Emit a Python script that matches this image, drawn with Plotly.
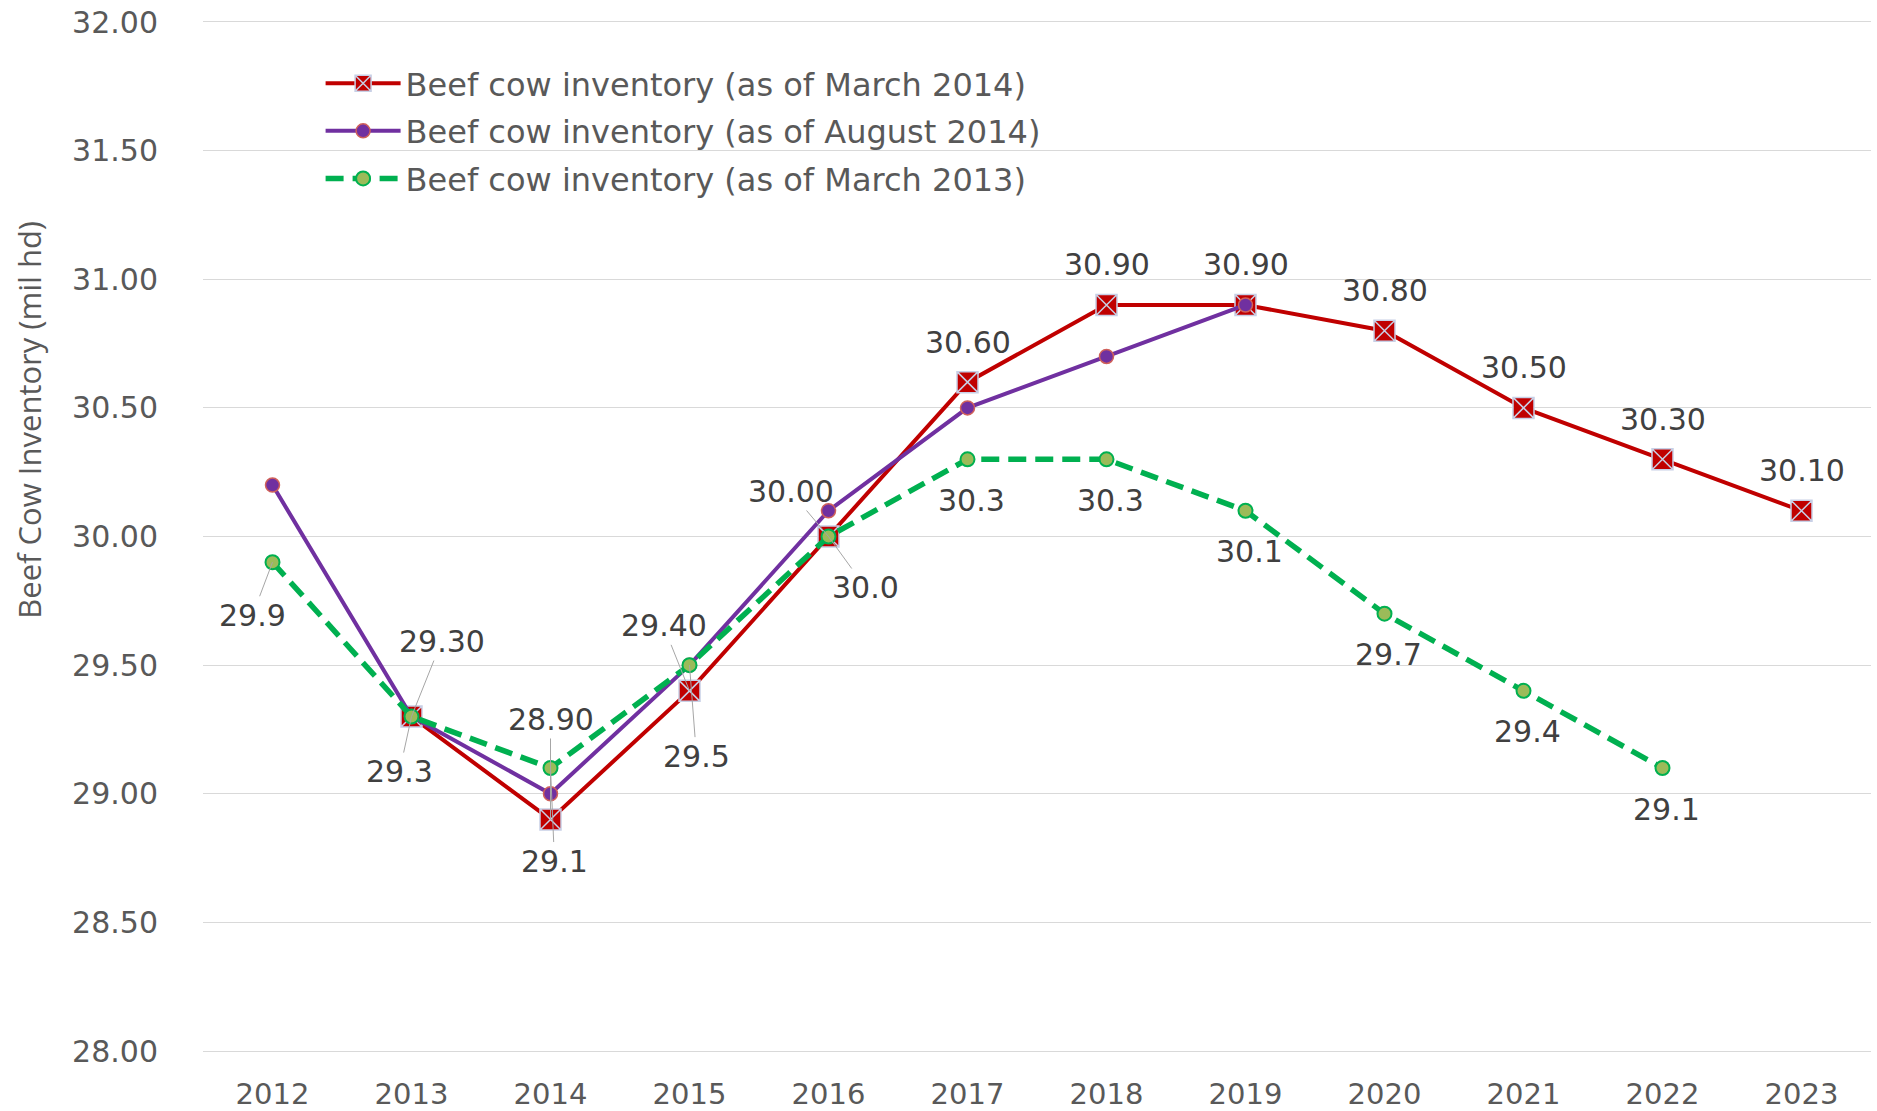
import plotly.graph_objects as go

years = [2012, 2013, 2014, 2015, 2016, 2017, 2018, 2019, 2020, 2021, 2022, 2023]
march2014 = [None, 29.3, 28.9, 29.4, 30.0, 30.6, 30.9, 30.9, 30.8, 30.5, 30.3, 30.1]
aug2014 = [30.2, 29.3, 29.0, 29.5, 30.1, 30.5, 30.7, 30.9, None, None, None, None]
march2013 = [29.9, 29.3, 29.1, 29.5, 30.0, 30.3, 30.3, 30.1, 29.7, 29.4, 29.1, None]

series_names = [
    "Beef cow inventory (as of March 2014)",
    "Beef cow inventory (as of August 2014)",
    "Beef cow inventory (as of March 2013)",
]
y_title = "Beef Cow Inventory (mil hd)"
y_ticks = [28.0, 28.5, 29.0, 29.5, 30.0, 30.5, 31.0, 31.5, 32.0]

# label placement (pixel offsets from point, leader flag) -- styling only
red_offsets = {2013: (30, -75, True), 2014: (0, -100, True), 2015: (-26, -65, True),
               2016: (-38, -45, True)}
red_default = (0, -40, False)
green_offsets = {2012: (-20, 53, True), 2013: (-12, 55, True), 2014: (4, 93, True),
                 2015: (7, 91, True), 2016: (37, 51, True)}
green_default = (4, 41, False)

RED = "#C00000"
PURPLE = "#7030A0"
GREEN = "#00B050"

fig = go.Figure()
fig.add_trace(go.Scatter(
    x=years, y=march2014, name=series_names[0], mode="lines+markers", legendgroup="a",
    line=dict(color=RED, width=4),
    marker=dict(symbol="square-x", size=21, color=RED, line=dict(color="#C8D0E6", width=1.5)),
))
fig.add_trace(go.Scatter(
    x=years, y=aug2014, name=series_names[1], mode="lines+markers", legendgroup="b",
    line=dict(color=PURPLE, width=4),
    marker=dict(symbol="circle", size=14, color=PURPLE, line=dict(color="#D0605A", width=1.5)),
))
fig.add_trace(go.Scatter(
    x=years, y=march2013, name=series_names[2], mode="lines+markers", legendgroup="c",
    line=dict(color=GREEN, width=5.5, dash="18px,9px"),
    marker=dict(symbol="circle", size=14, color="#9BBB59", line=dict(color=GREEN, width=2)),
))

annotations = []
label_font = dict(family="DejaVu Sans", size=30, color="#404040")
for yr, v in zip(years, march2014):
    if v is None:
        continue
    ax, ay, lead = red_offsets.get(yr, red_default)
    annotations.append(dict(
        x=yr, y=v, text=f"{v:.2f}", showarrow=True, ax=ax, ay=ay, arrowhead=0,
        arrowwidth=1, arrowcolor="#A6A6A6" if lead else "rgba(0,0,0,0)", standoff=0,
        font=label_font))
for yr, v in zip(years, march2013):
    if v is None:
        continue
    ax, ay, lead = green_offsets.get(yr, green_default)
    annotations.append(dict(
        x=yr, y=v, text=f"{v:.1f}", showarrow=True, ax=ax, ay=ay, arrowhead=0,
        arrowwidth=1, arrowcolor="#A6A6A6" if lead else "rgba(0,0,0,0)", standoff=0,
        font=label_font))

annotations.append(dict(
    xref="paper", yref="paper", x=-0.104, y=0.613, xanchor="center", yanchor="middle",
    text=y_title, textangle=-90, showarrow=False,
    font=dict(family="Open Sans", size=31, color="#595959")))

fig.update_layout(
    width=1877, height=1111,
    margin=dict(l=203, r=6, t=22, b=60, autoexpand=False),
    paper_bgcolor="white", plot_bgcolor="white",
    showlegend=True,
    legend=dict(x=0.0705, y=0.967, xanchor="left", yanchor="top",
                font=dict(family="DejaVu Sans", size=32, color="#595959"),
                bgcolor="rgba(0,0,0,0)", itemwidth=75, tracegroupgap=3),
    annotations=annotations,
    xaxis=dict(range=[2011.5, 2023.5], tickmode="array", tickvals=years,
               ticktext=[str(y) for y in years], showgrid=False, zeroline=False,
               showline=True, mirror=True, linecolor="#D9D9D9", linewidth=1,
               ticks="", ticklabelstandoff=17, automargin=False,
               tickfont=dict(family="DejaVu Sans", size=29, color="#595959")),
    yaxis=dict(range=[28, 32], tickmode="array", tickvals=y_ticks,
               ticktext=[f"{t:.2f}" for t in y_ticks], showgrid=True,
               gridcolor="#D9D9D9", gridwidth=1, zeroline=False, showline=False,
               ticks="", ticklabelstandoff=44, automargin=False,
               tickfont=dict(family="DejaVu Sans", size=30, color="#595959")),
)

fig.write_html("out.html", config={"displayModeBar": False},
               post_script="document.body.style.margin='0';document.body.style.overflow='hidden';")
